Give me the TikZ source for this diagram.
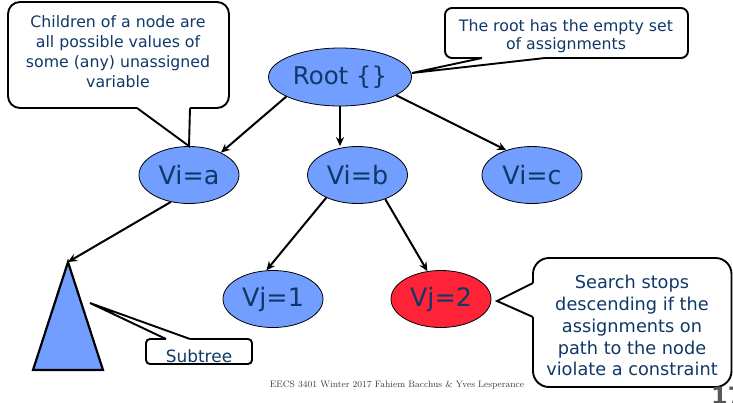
\documentclass[tikz,border=0pt]{standalone}
\usepackage{fontspec}
\newfontfamily\dvs{DejaVu Sans}
\usetikzlibrary{shapes.geometric,arrows.meta,calc}
\definecolor{nodeblue}{RGB}{114,158,255}
\definecolor{nodered}{RGB}{255,35,55}
\definecolor{txtblue}{RGB}{16,56,104}
\definecolor{footgray}{RGB}{60,60,60}
\begin{document}
\begin{tikzpicture}[x=1bp,y=-1bp,
  tnode/.style={ellipse, draw=black, line width=0.8bp, fill=nodeblue, text=txtblue,
    font=\dvs\fontsize{25.5}{28}\selectfont, inner sep=0, minimum width=100bp, minimum height=57bp},
  edge/.style={line width=2bp, -{Stealth[length=9bp,width=8bp]}},
  callbox/.style={draw=black, line width=1.9bp, fill=white},
  callptr/.style={draw=black, line width=1.9bp, line join=miter},
  calltext/.style={text=txtblue, align=center, inner sep=0}]
\useasboundingbox[fill=white] (0,0) rectangle (733,402);

% tree nodes
\node[tnode, minimum width=143bp, minimum height=58bp, font=\dvs\fontsize{24.5}{28}\selectfont] (root) at (340,77) {Root \{\}};
\node[tnode] (via) at (189,175) {Vi=a};
\node[tnode] (vib) at (357.5,175) {Vi=b};
\node[tnode] (vic) at (532,175) {Vi=c};
\node[tnode] (vj1) at (273,299) {Vj=1};
\node[tnode, fill=nodered] (vj2) at (441,299) {Vj=2};

% subtree triangle
\coordinate (apex) at (68,262);
\coordinate (bl) at (33,370);
\coordinate (br) at (103,370);
\draw[fill=nodeblue, line width=2.2bp, line join=miter] (apex) -- (br) -- (bl) -- cycle;

% edges
\draw[edge] (root.200) -- (via.35);
\draw[edge] (root.south) -- (vib.north -| root.south);
\draw[edge] (root.-18) -- (vic.136);
\draw[edge] (via.236) -- (apex);
\draw[edge] (vib.216) -- (vj1.103);
\draw[edge] (vib.319) -- (vj2.116);

% callout 1
\coordinate (c1a) at (137,108);
\coordinate (c1b) at (190,108);
\coordinate (c1tip) at (via.north);
\draw[callbox, rounded corners=12bp] (8,2) rectangle (229,108);
\fill[white] ($(c1a)+(0,-1.5)$) -- (c1a) -- (c1tip) -- (c1b) -- ($(c1b)+(0,-1.5)$) -- cycle;
\draw[callptr] (c1a) -- (c1tip) -- (c1b);
\node[calltext, font=\dvs\fontsize{15.8}{20}\selectfont] (t1) at (118,52)
  {Children of a node are\\all possible values of\\some (any) unassigned\\variable};

% callout 2
\coordinate (c2a) at (482,58);
\coordinate (c2b) at (545,58);
\coordinate (c2tip) at (412,73);
\draw[callbox, rounded corners=7bp] (445,8) rectangle (688,58);
\fill[white] ($(c2a)+(0,-1.5)$) -- (c2a) -- (c2tip) -- (c2b) -- ($(c2b)+(0,-1.5)$) -- cycle;
\draw[callptr] (c2a) -- (c2tip) -- (c2b);
\node[calltext, font=\dvs\fontsize{15.8}{18}\selectfont] (t2) at (566,36)
  {The root has the empty set\\of assignments};

% callout 3
\coordinate (c3a) at (533,283);
\coordinate (c3b) at (533,317);
\coordinate (c3tip) at (497,301);
\draw[callbox, rounded corners=16bp] (533,258) rectangle (731.5,387);
\fill[white] ($(c3a)+(1.5,0)$) -- (c3a) -- (c3tip) -- (c3b) -- ($(c3b)+(1.5,0)$) -- cycle;
\draw[callptr] (c3a) -- (c3tip) -- (c3b);
\node[calltext, font=\dvs\fontsize{17.8}{22}\selectfont] (t3) at (632,325.5)
  {Search stops\\descending if the\\assignments on\\path to the node\\violate a constraint};

% subtree callout
\coordinate (c4a) at (166,339);
\coordinate (c4b) at (190,339);
\coordinate (c4tip) at (90,303);
\draw[callbox, rounded corners=4bp] (146,339) rectangle (252,364);
\fill[white] ($(c4a)+(0,1.5)$) -- (c4a) -- (c4tip) -- (c4b) -- ($(c4b)+(0,1.5)$) -- cycle;
\draw[callptr] (c4a) -- (c4tip) -- (c4b);
\node[calltext, font=\dvs\fontsize{17}{20}\selectfont, anchor=base] (t4) at (199,362) {Subtree};

% footer
\node[text=footgray, font=\fontsize{9.3}{11}\selectfont, inner sep=0] (foot) at (397,385)
  {EECS 3401 Winter 2017 Fahiem Bacchus \& Yves Lesperance};
\node[text=footgray!85, font=\dvs\bfseries\fontsize{24}{28}\selectfont, inner sep=0, anchor=north west] (pg) at (711,387) {17};
\end{tikzpicture}
\end{document}
